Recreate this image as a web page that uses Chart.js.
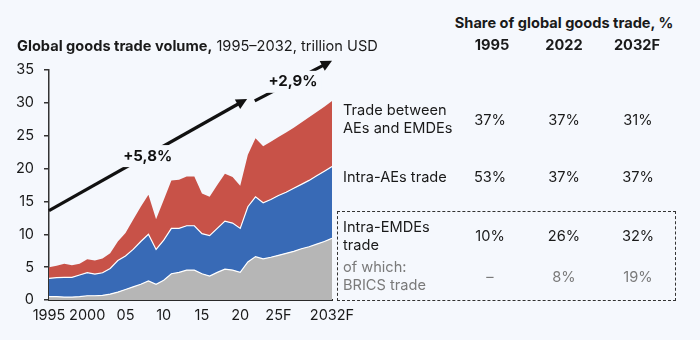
<!DOCTYPE html>
<html>
<head>
<meta charset="utf-8">
<script src="https://cdn.jsdelivr.net/npm/chart.js@4"></script>
<style>
  body { margin: 0; background: #f5f8fd; font-family: Inter, "Open Sans", sans-serif; color: #1a1a1a; }
  #wrap { position: relative; width: 700px; height: 340px; overflow: hidden; }
  #c { position: absolute; left: 0; top: 0; }
  .t { position: absolute; white-space: nowrap; font-size: 14.6px; line-height: 18px; }
  .b { font-weight: 700; }
  .c { transform: translate(-50%, -50%); }
  .l { transform: translateY(-50%); }
  .g { color: #7a7a7a; }
  #box { position: absolute; left: 337px; top: 211px; width: 339px; height: 90px; border: 1.6px dashed #333; box-sizing: border-box; }
</style>
</head>
<body>
<div id="wrap">
  <canvas id="c" width="380" height="340"></canvas>
  <div class="t l" style="left:17px; top:46px;"><span class="b">Global goods trade volume,</span> 1995–2032, trillion USD</div>

  <div class="t b c" style="left:564px; top:23px;">Share of global goods trade, %</div>
  <div class="t b c" style="left:492px; top:45px;">1995</div>
  <div class="t b c" style="left:564px; top:45px;">2022</div>
  <div class="t b c" style="left:637px; top:45px;">2032F</div>

  <div class="t l" style="left:343px; top:119px;">Trade between<br>AEs and EMDEs</div>
  <div class="t l" style="left:343px; top:177px;">Intra-AEs trade</div>
  <div id="box"></div>
  <div class="t l" style="left:343px; top:236px;">Intra-EMDEs<br>trade</div>
  <div class="t l g" style="left:343px; top:276px;">of which:<br>BRICS trade</div>
  <div id="table"></div>
</div>
<script>
// years on the x axis
var years = [1995, 1996, 1997, 1998, 1999, 2000, 2001, 2002, 2003, 2004, 2005, 2006, 2007, 2008, 2009,
  2010, 2011, 2012, 2013, 2014, 2015, 2016, 2017, 2018, 2019, 2020, 2021, 2022, 2023, 2024,
  2025, 2026, 2027, 2028, 2029, 2030, 2031, 2032];
var tickYears = [1995, 2000, 2005, 2010, 2015, 2020, 2025, 2032];
var tickLabels = ['1995', '2000', '05', '10', '15', '20', '25F', '2032F'];

// trillion USD, stacked from the bottom
var intraEmdes = [0.5, 0.5, 0.45, 0.45, 0.5, 0.65, 0.65, 0.7, 0.9, 1.2, 1.6, 2.0, 2.4, 2.9, 2.4,
  3.0, 4.0, 4.2, 4.55, 4.55, 4.0, 3.65, 4.2, 4.7, 4.55, 4.2, 5.8, 6.6, 6.25, 6.5,
  6.8, 7.1, 7.4, 7.8, 8.1, 8.5, 8.9, 9.4];
var intraAes = [2.8, 2.9, 3.0, 3.0, 3.3, 3.5, 3.3, 3.45, 3.9, 4.8, 5.1, 5.7, 6.5, 7.1, 5.3,
  6.1, 6.9, 6.7, 6.75, 6.75, 6.1, 6.15, 6.7, 7.3, 7.15, 6.7, 8.4, 9.1, 8.55, 8.8,
  9.1, 9.3, 9.6, 9.8, 10.1, 10.4, 10.7, 10.9];
var between = [1.7, 1.8, 2.05, 1.85, 1.7, 2.05, 2.05, 2.15, 2.3, 2.9, 3.5, 4.5, 5.3, 6.0, 4.6,
  6.1, 7.3, 7.4, 7.5, 7.5, 6.1, 5.9, 6.6, 7.2, 7.0, 6.5, 7.9, 8.9, 8.6, 8.8,
  8.9, 9.1, 9.2, 9.4, 9.6, 9.7, 9.8, 10.0];

// share table
var shareCols = ['1995', '2022', '2032F'];
var shareBetween = ['37%', '37%', '31%'];
var shareAes = ['53%', '37%', '37%'];
var shareEmdes = ['10%', '26%', '32%'];
var shareBrics = ['–', '8%', '19%'];

// growth arrows (year, value)
var arrow1 = { from: [1995, 13.6], to: [2020.9, 30.6], label: '+5,8%', at: [2007.9, 21.9] };
var arrow2 = { from: [2021.9, 30.3], to: [2032, 36.4], label: '+2,9%', at: [2026.9, 33.2] };

var colX = [490, 564, 638];
var rows = [[shareBetween, 120, ''], [shareAes, 177, ''], [shareEmdes, 236, ''], [shareBrics, 277, 'g']];
var table = document.getElementById('table');
rows.forEach(function (r) {
  r[0].forEach(function (v, i) {
    var d = document.createElement('div');
    d.className = 't c ' + r[2];
    d.style.left = colX[i] + 'px';
    d.style.top = r[1] + 'px';
    d.textContent = v;
    table.appendChild(d);
  });
});

function pts(arr) {
  return arr.map(function (v, i) { return { x: years[i], y: v }; });
}

var arrows = {
  id: 'arrows',
  afterDatasetsDraw: function (chart) {
    var ctx = chart.ctx, xs = chart.scales.x, ys = chart.scales.y;
    [arrow1, arrow2].forEach(function (a) {
      var x1 = xs.getPixelForValue(a.from[0]), y1 = ys.getPixelForValue(a.from[1]);
      var x2 = xs.getPixelForValue(a.to[0]), y2 = ys.getPixelForValue(a.to[1]);
      var ang = Math.atan2(y2 - y1, x2 - x1);
      var head = 11;
      ctx.save();
      ctx.strokeStyle = '#111';
      ctx.fillStyle = '#111';
      ctx.lineWidth = 3.2;
      ctx.beginPath();
      ctx.moveTo(x1, y1);
      ctx.lineTo(x2 - Math.cos(ang) * head * 0.8, y2 - Math.sin(ang) * head * 0.8);
      ctx.stroke();
      ctx.beginPath();
      ctx.moveTo(x2, y2);
      ctx.lineTo(x2 - Math.cos(ang) * head - Math.sin(ang) * 5.5, y2 - Math.sin(ang) * head + Math.cos(ang) * 5.5);
      ctx.lineTo(x2 - Math.cos(ang) * head + Math.sin(ang) * 5.5, y2 - Math.sin(ang) * head - Math.cos(ang) * 5.5);
      ctx.closePath();
      ctx.fill();
      // label breaks the line
      var lx = xs.getPixelForValue(a.at[0]), ly = ys.getPixelForValue(a.at[1]);
      ctx.font = 'bold 15px Inter, sans-serif';
      ctx.textAlign = 'center';
      ctx.textBaseline = 'middle';
      var w = ctx.measureText(a.label).width;
      ctx.fillStyle = '#f5f8fd';
      ctx.fillRect(lx - w / 2 - 4, ly - 11, w + 8, 22);
      ctx.fillStyle = '#111';
      ctx.fillText(a.label, lx, ly);
      ctx.restore();
    });
  }
};

var ctx = document.getElementById('c').getContext('2d');
var chart = new Chart(ctx, {
  type: 'line',
  data: {
    datasets: [{
      label: 'Intra-EMDEs trade',
      data: pts(intraEmdes),
      backgroundColor: 'rgb(182, 182, 182)',
      borderColor: '#ffffff',
      borderWidth: 1.2,
      fill: 'origin'
    }, {
      label: 'Intra-AEs trade',
      data: pts(intraAes),
      backgroundColor: 'rgb(56, 106, 182)',
      borderColor: '#ffffff',
      borderWidth: 1.2,
      fill: '-1'
    }, {
      label: 'Trade between AEs and EMDEs',
      data: pts(between),
      backgroundColor: 'rgb(200, 82, 72)',
      borderColor: 'rgb(200, 82, 72)',
      borderWidth: 0,
      fill: '-1'
    }]
  },
  options: {
    responsive: false,
    animation: false,
    elements: { point: { radius: 0 }, line: { tension: 0 } },
    layout: { padding: { top: 70, right: 48, left: 0, bottom: 0 } },
    plugins: { legend: { display: false }, tooltip: { enabled: false } },
    scales: {
      x: {
        type: 'linear',
        min: 1995,
        max: 2032,
        afterBuildTicks: function (s) { s.ticks = tickYears.map(function (v) { return { value: v }; }); },
        afterFit: function (s) { s.height = 40; },
        grid: { display: false, drawTicks: false },
        border: { display: true, color: '#2a2a2a', width: 2 },
        ticks: {
          autoSkip: false, maxRotation: 0, padding: 7, color: '#1a1a1a',
          font: { family: 'Inter', size: 14.5 },
          callback: function (v) { return tickLabels[tickYears.indexOf(v)]; }
        }
      },
      y: {
        stacked: true,
        min: 0,
        max: 35,
        afterFit: function (s) { s.width = 49; },
        grid: { drawOnChartArea: false, drawTicks: true, tickLength: 5, color: '#333', lineWidth: 1.5 },
        border: { display: true, color: '#333', width: 1.5 },
        ticks: { stepSize: 5, padding: 10, color: '#1a1a1a', font: { family: 'Inter', size: 14.5 } }
      }
    }
  },
  plugins: [arrows]
});
</script>
</body>
</html>
